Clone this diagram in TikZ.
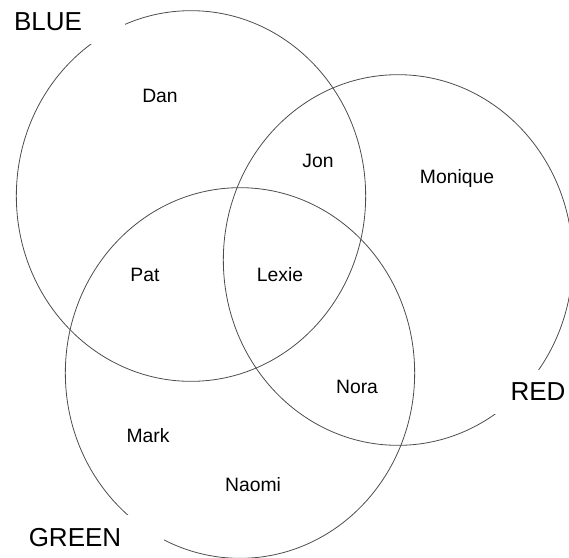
\documentclass[tikz,border=0pt]{standalone}
\usepackage{fontspec}
\setmainfont{Liberation Sans}
\usepackage{tikz}

\begin{document}
\begin{tikzpicture}[x=0.75pt, y=-0.75pt,
    ring/.style={black!70, line width=0.6pt},
    setname/.style={font=\fontsize{19.5}{22}\selectfont, fill=white,
      inner xsep=32pt, inner ysep=10pt},
    member/.style={font=\fontsize{14.5}{17}\selectfont}]
  \def\rx{131pt}\def\ry{139pt}
  \useasboundingbox (0,0) rectangle (569,558);
  % the three sets
  \draw[ring] (191,196) ellipse [x radius=\rx, y radius=\ry];
  \draw[ring] (398,260) ellipse [x radius=\rx, y radius=\ry];
  \draw[ring] (240,373) ellipse [x radius=\rx, y radius=\ry];
  % set names
  \node[setname] (blue) at (48,22) {BLUE};
  \node[setname] (red) at (538,392) {RED};
  \node[setname] (green) at (75,538) {GREEN};
  % members
  \node[member] (dan) at (160,96) {Dan};
  \node[member] (jon) at (318,161) {Jon};
  \node[member] (monique) at (457,178) {Monique};
  \node[member] (pat) at (145,275) {Pat};
  \node[member] (lexie) at (280,275) {Lexie};
  \node[member] (nora) at (357,387) {Nora};
  \node[member] (mark) at (148,436) {Mark};
  \node[member] (naomi) at (253,485) {Naomi};
\end{tikzpicture}
\end{document}
